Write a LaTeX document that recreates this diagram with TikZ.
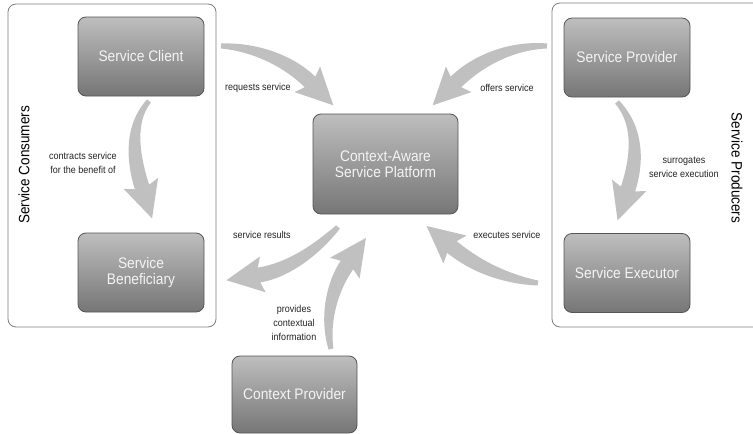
\documentclass[tikz,border=0pt]{standalone}
\usepackage{fontspec}
\setmainfont[FakeStretch=0.9]{Liberation Sans}
\usetikzlibrary{calc}

\definecolor{boxtop}{RGB}{190,190,190}
\definecolor{boxbottom}{RGB}{118,118,118}
\definecolor{boxedge}{RGB}{85,85,85}
\definecolor{boxtext}{RGB}{244,244,244}
\definecolor{flowfill}{RGB}{192,192,192}
\definecolor{framecol}{RGB}{125,125,125}
\definecolor{labelcol}{RGB}{35,35,35}

\tikzset{
  entity/.style={rounded corners=8pt, draw=boxedge, line width=0.8pt,
    top color=boxtop, bottom color=boxbottom,
    minimum width=126pt, minimum height=79pt, inner sep=0pt,
    text=boxtext, align=center, font=\fontsize{15.3}{16.5}\selectfont},
  group/.style={draw=framecol, line width=0.8pt, rounded corners=8pt},
  grouplabel/.style={font=\fontsize{15}{16}\selectfont, text=black},
  flowlabel/.style={font=\fontsize{10}{14}\selectfont, text=labelcol, align=center, inner sep=0pt},
  flowarrow/.style={fill=flowfill, draw=none}
}

% tapered block arrow: tail, first control, second control, base of the head
\newcommand\atw{2.5pt}  % half width at the tail
\newcommand\amw{5.5pt}  % half width in the middle
\newcommand\abw{7.5pt}  % half width where the head starts
\newcommand\ahd{18.5pt} % distance to the barbs
\newcommand\ahl{33pt}   % head length
\newcommand\fatarrow[4]{%
  \fill[flowarrow]
    ($(#1)!\atw!90:(#2)$)
    .. controls ($(#2)!\amw!90:(#3)$) and ($(#3)!\abw!90:(#4)$) ..
    ($(#4)!\abw!-90:(#3)$)
    -- ($(#4)!\ahd!-78:(#3)$)
    -- ($(#4)!-\ahl!(#3)$)
    -- ($(#4)!\ahd!78:(#3)$)
    -- ($(#4)!\abw!90:(#3)$)
    .. controls ($(#3)!\abw!-90:(#4)$) and ($(#2)!\amw!-90:(#3)$) ..
    ($(#1)!\atw!-90:(#2)$) -- cycle;}

\begin{document}
\begin{tikzpicture}[x=1pt,y=-1pt]
\useasboundingbox (0,0) rectangle (753,434);
\clip (0,0) rectangle (753,434);

% groups
\draw[group] (8,4) rectangle (216,327);
\draw[group] (552,3) rectangle (775,327);
\node[grouplabel, rotate=90] (consumers) at (24,165) {Service Consumers};
\node[grouplabel, rotate=-90] (producers) at (737,168) {Service Producers};

% entities
\node[entity] (client) at (141,56.5) {Service Client};
\node[entity] (beneficiary) at (141,272.5) {Service\\Beneficiary};
\node[entity, minimum width=145pt, minimum height=100pt] (platform) at (385.5,164) {Context-Aware\\Service Platform};
\node[entity] (provider) at (627,57.5) {Service Provider};
\node[entity] (executor) at (627,273) {Service Executor};
\node[entity, minimum width=125pt, minimum height=77pt] (context) at (294.5,394.5) {Context Provider};

% control points of the flows
\coordinate (rq1) at (221,46);  \coordinate (rq2) at (258,47);
\coordinate (rq3) at (291,63);  \coordinate (rq4) at (310,82);
\coordinate (of1) at (547,46);  \coordinate (of2) at (510,45);
\coordinate (of3) at (476,62);  \coordinate (of4) at (456,82);
\coordinate (ct1) at (149,101); \coordinate (ct2) at (128,125);
\coordinate (ct3) at (134,162); \coordinate (ct4) at (142,187);
\coordinate (sg1) at (617,102); \coordinate (sg2) at (641,128);
\coordinate (sg3) at (636,165); \coordinate (sg4) at (628,189);
\coordinate (sr1) at (338,227); \coordinate (sr2) at (318,248);
\coordinate (sr3) at (290,270); \coordinate (sr4) at (259,275);
\coordinate (cx1) at (331,349); \coordinate (cx2) at (324,318);
\coordinate (cx3) at (333,285); \coordinate (cx4) at (347,265);
\coordinate (ex1) at (538,283); \coordinate (ex2) at (505,279);
\coordinate (ex3) at (475,266); \coordinate (ex4) at (452,247);

% flows
\fatarrow{rq1}{rq2}{rq3}{rq4}
\fatarrow{of1}{of2}{of3}{of4}
\fatarrow{ct1}{ct2}{ct3}{ct4}
\fatarrow{sg1}{sg2}{sg3}{sg4}
\fatarrow{sr1}{sr2}{sr3}{sr4}
\fatarrow{cx1}{cx2}{cx3}{cx4}
\fatarrow{ex1}{ex2}{ex3}{ex4}

% flow labels
\node[flowlabel] (lrq) at (258,88) {requests service};
\node[flowlabel] (lof) at (507,88) {offers service};
\node[flowlabel] (lct) at (83,163) {contracts service\\for the benefit of};
\node[flowlabel] (lsg) at (684,167) {surrogates\\service execution};
\node[flowlabel] (lsr) at (262,235) {service results};
\node[flowlabel] (lex) at (507,235) {executes service};
\node[flowlabel] (lcx) at (294,323) {provides\\contextual\\information};
\end{tikzpicture}
\end{document}
